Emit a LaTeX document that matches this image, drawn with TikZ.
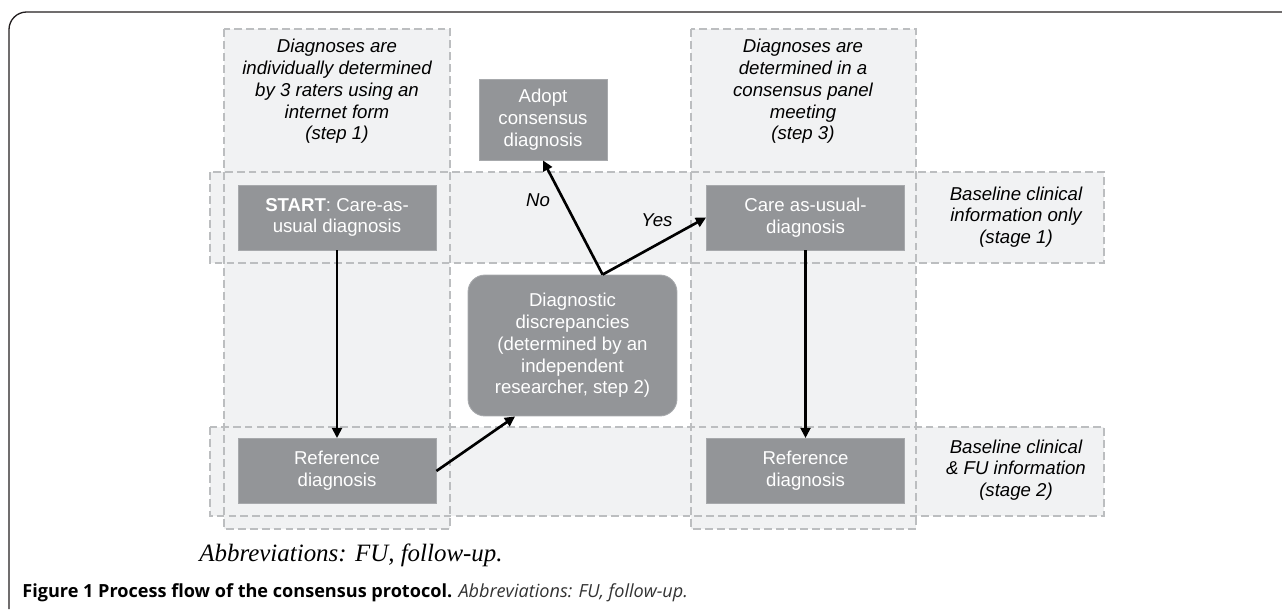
\documentclass[tikz,border=0pt]{standalone}
\usepackage{fontspec}
\setmainfont{Liberation Sans}
\newfontfamily\abbrfont{Liberation Serif}
\newfontfamily\capfont{Open Sans}
\usetikzlibrary{arrows.meta,positioning,calc}
\definecolor{boxgray}{HTML}{939598}
\definecolor{boxedge}{HTML}{A7A9AC}
\definecolor{lanefill}{HTML}{F1F2F3}
\definecolor{lanedash}{HTML}{BCBEC0}
\definecolor{framegray}{HTML}{231F20}
\tikzset{
  % lanes are the dashed grey bands behind the boxes
  lane/.style={fill=lanefill},
  laneedge/.style={draw=lanedash, line width=0.85pt, dash pattern=on 4.5pt off 2.3pt},
  box/.style={rectangle, draw=boxedge, line width=0.5pt, fill=boxgray, text=white,
  align=center, inner sep=0pt,
  minimum width=3.96cm,
  minimum height=1.3cm,
  font=\fontsize{10.6}{12.35}\selectfont},
  note/.style={align=center, inner sep=0pt, font=\fontsize{10.6}{12.35}\selectfont\itshape},
  flow/.style={->, line width=1.5pt, >={Triangle[length=5.8pt,width=5.6pt]}}}

\begin{document}
\begin{tikzpicture}[x=0.02cm, y=-0.02cm]

\useasboundingbox (0,0) rectangle (1282,609);

\draw [framegray, line width=0.75pt, rounded corners=10] (9,609) -- (9,12) -- (1282,12);

% lanes: two columns (steps) and two rows (stages)
\path [lane] (224,29) rectangle (450,529);
\path [lane] (691,29) rectangle (916,529);
\path [lane] (210,172) rectangle (1104,263);
\path [lane] (210,427) rectangle (1104,516);

\draw [laneedge] (224,29) rectangle (450,529);
\draw [laneedge] (691,29) rectangle (916,529);
\draw [laneedge] (210,172) rectangle (1104,263);
\draw [laneedge] (210,427) rectangle (1104,516);

\draw (337,91.5) node (step1) [note] {Diagnoses are\\individually determined\\by 3 raters using an\\internet form\\(step 1)};
\draw (803,91.5) node (step3) [note] {Diagnoses are\\determined in a\\consensus panel\\meeting\\(step 3)};
\draw (1016,217) node (stage1) [note] {Baseline clinical\\information only\\(stage 1)};
\draw (1016,470) node (stage2) [note] {Baseline clinical\\\& FU information\\(stage 2)};

\draw (337,217.5) node (start) [box] {\textbf{START}: Care-as-\\usual diagnosis};
\draw (805.5,217.5) node (care) [box] {Care as-usual-\\diagnosis};
\draw (337,471) node (ref1) [box] {Reference\\diagnosis};
\draw (805.5,471) node (ref2) [box] {Reference\\diagnosis};
\draw (543,119.5) node (adopt) [box, minimum width=2.56cm, minimum height=1.62cm] {Adopt\\consensus\\diagnosis};
\draw (572.5,345.5) node (diag) [box, rounded corners=0.34cm, minimum width=4.18cm, minimum height=2.82cm] {Diagnostic\\discrepancies\\(determined by an\\independent\\researcher, step 2)};

\draw [flow] (start) -- (ref1);
\draw [flow] (care) -- (ref2);
\draw [flow] (ref1.east) -- (diag.231);
\draw [flow] (diag.67) -- (adopt.south);
\draw [flow] (diag.67) -- (care.west);

\draw (538,200) node (no) [note] {No};
\draw (657,220) node (yes) [note] {Yes};

\draw (351,555) node (abbr) [font=\fontsize{14.2}{16}\abbrfont\itshape] {Abbreviations: FU, follow-up.};
\draw (22,593) node (caption) [anchor=west, inner sep=0pt, font=\fontsize{10.3}{12}\capfont] {\textbf{Figure 1 Process flow of the consensus protocol.} {\itshape\color{black!80} Abbreviations: FU, follow-up.}};

\end{tikzpicture}
\end{document}
